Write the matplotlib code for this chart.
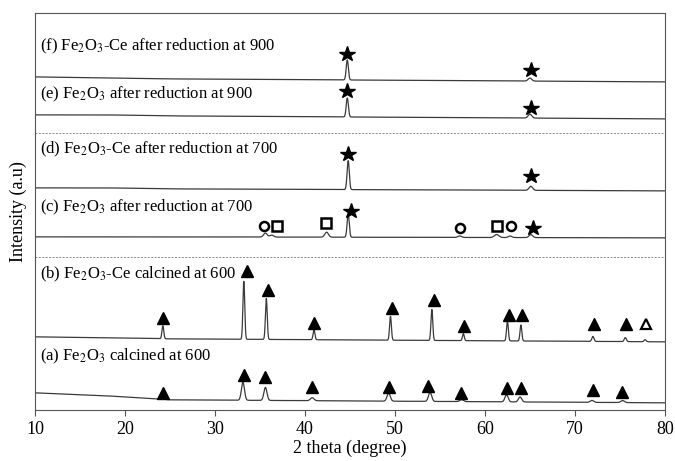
import numpy as np
import matplotlib.pyplot as plt

plt.rcParams['font.family'] = ['Liberation Serif', 'DejaVu Serif']
plt.rcParams['mathtext.fontset'] = 'stix'

# sample labels (top to bottom in the plot)
labels = ["(f) Fe$_2$O$_3$-Ce after reduction at 900",
          "(e) Fe$_2$O$_3$ after reduction at 900",
          "(d) Fe$_2$O$_3$-Ce after reduction at 700",
          "(c) Fe$_2$O$_3$ after reduction at 700",
          "(b) Fe$_2$O$_3$-Ce calcined at 600",
          "(a) Fe$_2$O$_3$ calcined at 600"]
label_y = [364, 316, 260, 202, 135, 53]

# baselines: 2theta points and offset intensity
base_x = [10, 18, 25, 80]
base_f = [333, 332, 331, 328]
base_e = [295, 295, 294, 291]
base_d = [222, 222, 221, 219]
base_c = [173, 173, 173, 172]
base_b = [73, 72, 71, 68]
base_a = [17, 14, 10, 7]

# peaks: position (deg), height, width
pk_f = [(44.7, 20, 0.12), (65.0, 3, 0.2)]
pk_e = [(44.7, 19, 0.12), (65.0, 4, 0.2)]
pk_d = [(44.8, 29, 0.12), (65.1, 4, 0.2)]
pk_c = [(35.6, 4, 0.2), (36.3, 2, 0.2), (42.4, 5, 0.2), (44.8, 23, 0.12),
        (57.2, 1.5, 0.2), (61.3, 3, 0.25), (62.8, 1.5, 0.2), (65.1, 3, 0.2)]
pk_b = [(24.2, 13, 0.1), (33.2, 58, 0.1), (35.7, 41, 0.1), (41.0, 10, 0.1),
        (49.5, 24, 0.1), (54.1, 31, 0.1), (57.6, 7, 0.1), (62.5, 20, 0.1),
        (64.0, 16, 0.1), (72.0, 5, 0.12), (75.6, 4, 0.12), (77.8, 2, 0.12)]
pk_a = [(24.1, 2, 0.2), (33.1, 18, 0.17), (35.6, 13, 0.17), (40.8, 3, 0.2),
        (49.3, 8, 0.18), (53.9, 9, 0.18), (57.4, 2, 0.2), (62.4, 7, 0.18),
        (63.9, 5, 0.18), (71.9, 2, 0.2), (75.3, 2, 0.2)]

traces = [(base_f, pk_f), (base_e, pk_e), (base_d, pk_d),
          (base_c, pk_c), (base_b, pk_b), (base_a, pk_a)]

# phase markers (2theta, y)
stars = [(44.7, 356), (65.1, 340), (44.7, 319), (65.1, 302),
         (44.8, 256), (65.1, 234), (45.1, 199), (65.3, 182)]
circles = [(35.4, 184), (57.2, 182), (62.9, 184)]
squares = [(36.9, 184), (42.3, 187), (61.3, 184)]
tri_b = [(24.2, 92), (33.5, 139), (35.9, 120), (41.0, 87), (49.7, 102),
         (54.3, 110), (57.7, 84), (62.7, 95), (64.1, 95), (72.1, 86), (75.7, 86)]
tri_b_open = [(77.9, 86)]
tri_a = [(24.2, 17), (33.2, 35), (35.5, 33), (40.8, 23), (49.3, 23),
         (53.7, 24), (57.3, 17), (62.4, 22), (64.0, 22), (72.0, 20), (75.2, 18)]

x = np.linspace(10, 80, 3500)

fig = plt.figure(figsize=(6.75, 4.61), dpi=100)
ax = fig.add_axes([0.052, 0.111, 0.933, 0.861])

for base, peaks in traces:
    y = np.interp(x, base_x, base)
    for c, h, w in peaks:
        y = y + h * np.exp(-0.5 * ((x - c) / w) ** 2)
    ax.plot(x, y, color='#3a3a3a', lw=0.9)

for lab, ly in zip(labels, label_y):
    ax.text(10.6, ly, lab, fontsize=12, va='center', ha='left')

ax.axhline(277, color='#888888', lw=0.7, ls=(0, (2, 1.5)))
ax.axhline(153, color='#888888', lw=0.7, ls=(0, (2, 1.5)))

def pts(lst):
    return [p[0] for p in lst], [p[1] for p in lst]

ax.plot(*pts(stars), ls='none', marker='*', ms=11.5, color='black')
ax.plot(*pts(circles), ls='none', marker='o', ms=6.5, mfc='white', mec='black', mew=1.8)
ax.plot(*pts(squares), ls='none', marker='s', ms=6.5, mfc='white', mec='black', mew=1.8)
ax.plot(*pts(tri_b), ls='none', marker='^', ms=8.5, color='black')
ax.plot(*pts(tri_a), ls='none', marker='^', ms=8.5, color='black')
ax.plot(*pts(tri_b_open), ls='none', marker='^', ms=7.5, mfc='white', mec='black', mew=1.6)

ax.set_xlim(10, 80)
ax.set_ylim(0, 397)
ax.set_xticks(range(10, 81, 10))
ax.set_yticks([])
ax.tick_params(axis='x', labelsize=13, direction='out', length=4, pad=4, color='#555555')
for s in ax.spines.values():
    s.set_color('#555555')
ax.set_xlabel('2 theta (degree)', fontsize=13, labelpad=1)
ax.set_ylabel('Intensity (a.u)', fontsize=13, labelpad=6)

fig.savefig('out.png', dpi=100)
